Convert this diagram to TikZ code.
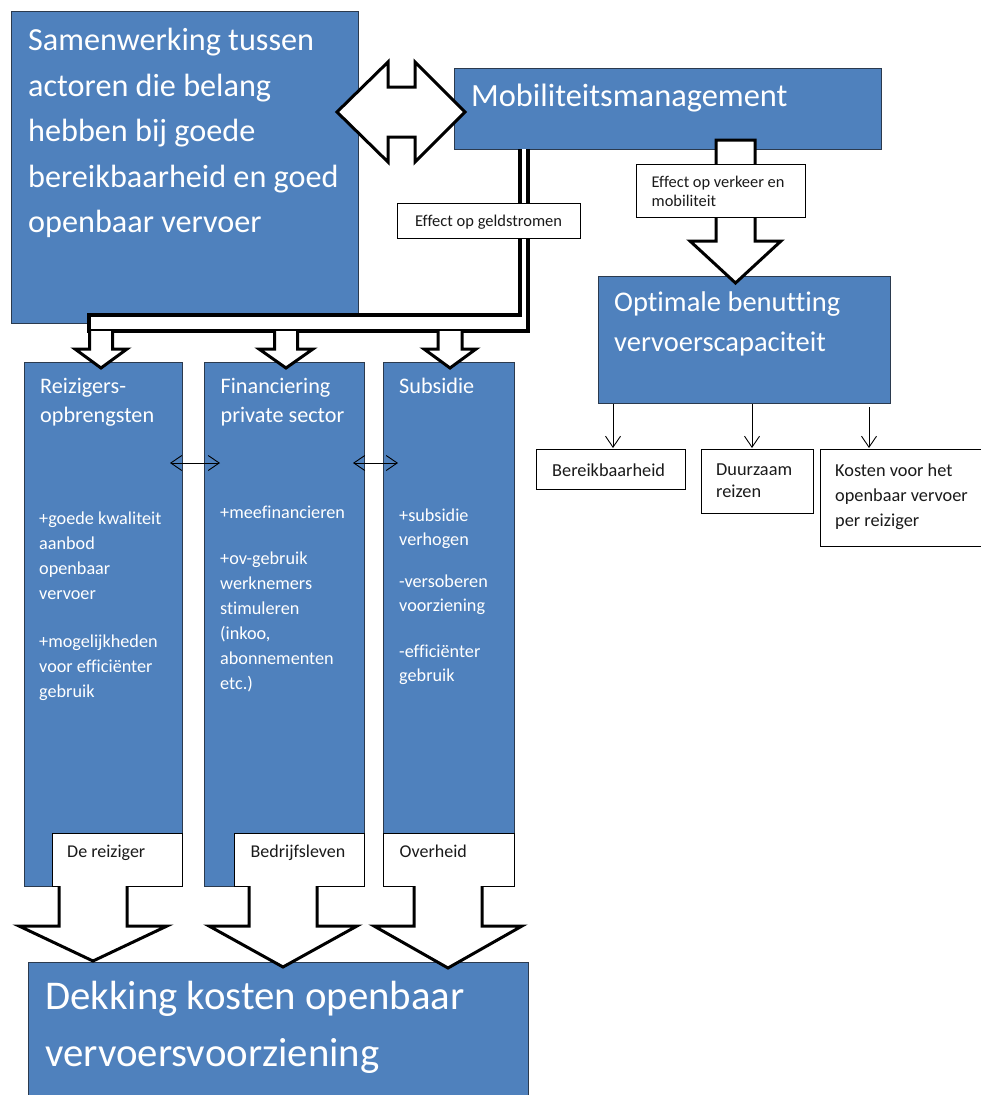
\documentclass[tikz,border=0pt]{standalone}
\usepackage{fontspec}
\setmainfont{Carlito}[Ligatures=NoCommon]
\usetikzlibrary{arrows.meta,calc}
\definecolor{boxblue}{HTML}{4F81BD}
\definecolor{boxedge}{HTML}{2B3A4E}
\definecolor{ink}{HTML}{1A1A1A}
\newcommand\Ln[1]{\hbox{#1}}
\newcommand\Gap[1]{\vskip#1pt}
\newcommand\Fs[2]{\fontsize{#1pt}{#2pt}\selectfont}
\newcommand\blkdown[6]{% cx, ytop, ybase, ytip, shaft hw, head hw
  \filldraw[blk] ({#1-#5},#2) -- ({#1-#5},#3) -- ({#1-#6},#3) -- (#1,#4) -- ({#1+#6},#3) -- ({#1+#5},#3) -- ({#1+#5},#2);}
\begin{document}
\begin{tikzpicture}[x=1pt,y=-1pt,
  bluebox/.style={draw=boxedge, line width=1pt, fill=boxblue, inner sep=0pt, anchor=north west},
  wbox/.style={draw=black, line width=1pt, fill=white, inner sep=0pt, anchor=north west},
  txtw/.style={text=white, inner sep=0pt, anchor=base west},
  txtk/.style={text=ink, inner sep=0pt, anchor=base west},
  blk/.style={draw=black, line width=3pt, fill=white, line join=miter},
  thinarrow/.style={draw=black, line width=0.9pt, -{Straight Barb[length=11pt,width=15pt]}},
  dblarrow/.style={draw=black, line width=0.9pt, {Straight Barb[length=11pt,width=15pt]}-{Straight Barb[length=11pt,width=15pt]}}]
\useasboundingbox (0,0) rectangle (981,1095);
\clip (0,0) rectangle (981,1095);
\fill[white] (0,0) rectangle (981,1095);

% blue boxes
\node[bluebox, minimum width=347pt, minimum height=312pt] (sam) at (11,11) {};
\node[bluebox, minimum width=427pt, minimum height=81pt] (mob) at (454,68) {};
\node[bluebox, minimum width=292pt, minimum height=127pt] (opt) at (598,276) {};
\node[bluebox, minimum width=158pt, minimum height=524pt] (c1) at (24,362) {};
\node[bluebox, minimum width=160pt, minimum height=524pt] (c2) at (204,362) {};
\node[bluebox, minimum width=131pt, minimum height=524pt] (c3) at (383,362) {};
\node[bluebox, minimum width=500pt, minimum height=140pt] (dek) at (28,962) {};

% label boxes at bottom of columns
\node[wbox, minimum width=130pt, minimum height=53pt] (l1) at (52,833) {};
\node[wbox, minimum width=130pt, minimum height=53pt] (l2) at (234,833) {};
\node[wbox, minimum width=131pt, minimum height=53pt] (l3) at (383,833) {};

% bent double-line connector from Mobiliteitsmanagement to the three columns
\filldraw[blk, line width=3.5pt] (520,149) -- (520,315) -- (89,315) -- (89,331) -- (528,331) -- (528,149);
% small block arrows into the columns
\blkdown{101}{331}{349}{368}{11.5}{26}
\blkdown{286}{331}{349}{368}{11.5}{27}
\blkdown{450}{331}{349}{368}{12}{26}

% double block arrow between sam and mob
\filldraw[blk] (337,112) -- (388,62) -- (388,87) -- (415,87) -- (415,62) -- (465,112)
  -- (415,162) -- (415,137) -- (388,137) -- (388,162) -- cycle;

% block arrow mob -> opt
\filldraw[blk] (716,140) -- (716,241) -- (690,241) -- (735.5,283) -- (781,241) -- (755,241) -- (755,140) -- cycle;

% white label boxes on connectors
\node[wbox, minimum width=183pt, minimum height=35pt] (geld) at (397,203) {};
\node[wbox, minimum width=169pt, minimum height=53pt] (verk) at (636,164) {};

% big block arrows to bottom box
\blkdown{93}{886}{926}{961}{34}{74}
\blkdown{283}{886}{926}{967}{34}{74}
\blkdown{448}{886}{926}{968}{34}{74}

% double arrows between columns
\coordinate (a1) at (170,463); \coordinate (a2) at (220,463);
\coordinate (a3) at (353,463); \coordinate (a4) at (398,463);
\draw[dblarrow] (a1) -- (a2);
\draw[dblarrow] (a3) -- (a4);

% right-hand boxes
\node[wbox, minimum width=149pt, minimum height=40pt] (ber) at (536,449) {};
\node[wbox, minimum width=112pt, minimum height=64pt] (duu) at (701,449) {};
\node[wbox, minimum width=170pt, minimum height=97pt] (kos) at (820,449) {};
\coordinate (k1) at (613,448); \coordinate (k2) at (752,448); \coordinate (k3) at (869,448);
\coordinate (s3) at (869,407);
\draw[thinarrow] (k1 |- opt.south) -- (k1);
\draw[thinarrow] (k2 |- opt.south) -- (k2);
\draw[thinarrow] (s3) -- (k3);

% texts
\node[txtw, font=\Fs{32.2}{45.5}] (tsam) at (28,50.5) {\vtop{\Ln{Samenwerking tussen}\Ln{actoren die belang}\Ln{hebben bij goede}\Ln{bereikbaarheid en goed}\Ln{openbaar vervoer}}};
\node[txtw, font=\Fs{32.4}{36}] (tmob) at (471,106) {Mobiliteitsmanagement};
\node[txtw, font=\Fs{28.5}{40}] (topt) at (614,311.5) {\vtop{\Ln{Optimale benutting}\Ln{vervoerscapaciteit}}};

\node[txtw, font=\Fs{22.2}{29}] (tc1) at (40,393) {\vtop{\Ln{Reizigers-}\Ln{opbrengsten}}};
\node[txtw, font=\Fs{22.2}{29}] (tc2) at (220.5,393) {\vtop{\Ln{Financiering}\Ln{private sector}}};
\node[txtw, font=\Fs{22.2}{29}] (tc3) at (399,393) {Subsidie};

\node[txtw, font=\Fs{18.2}{25}] (bc1) at (39,524) {\vtop{\Ln{+goede kwaliteit}\Ln{aanbod}\Ln{openbaar}\Ln{vervoer}\Gap{23}\Ln{+mogelijkheden}\Ln{voor efficiënter}\Ln{gebruik}}};
\node[txtw, font=\Fs{18.2}{25}] (bc2) at (220,518) {\vtop{\Ln{+meefinancieren}\Gap{21}\Ln{+ov-gebruik}\Ln{werknemers}\Ln{stimuleren}\Ln{(inkoo,}\Ln{abonnementen}\Ln{etc.)}}};
\node[txtw, font=\Fs{18.2}{24}] (bc3) at (399,521) {\vtop{\Ln{+subsidie}\Ln{verhogen}\Gap{18}\Ln{-versoberen}\Ln{voorziening}\Gap{22}\Ln{-efficiënter}\Ln{gebruik}}};

\node[txtk, font=\Fs{16.5}{19.5}] (tgeld) at (415,226) {Effect op geldstromen};
\node[txtk, font=\Fs{16.4}{19.5}] (tverk) at (651.5,187) {\vtop{\Ln{Effect op verkeer en}\Ln{mobiliteit}}};
\node[txtk, font=\Fs{18.3}{25}] (tber) at (552,476) {Bereikbaarheid};
\node[txtk, font=\Fs{18.3}{22.5}] (tduu) at (716,475) {\vtop{\Ln{Duurzaam}\Ln{reizen}}};
\node[txtk, font=\Fs{18.3}{25}] (tkos) at (835,476) {\vtop{\Ln{Kosten voor het}\Ln{openbaar vervoer}\Ln{per reiziger}}};

\node[txtk, font=\Fs{18}{22}] (tl1) at (67,857) {De reiziger};
\node[txtk, font=\Fs{18}{22}] (tl2) at (250.5,857) {Bedrijfsleven};
\node[txtk, font=\Fs{18}{22}] (tl3) at (399.5,857) {Overheid};

\node[txtw, font=\Fs{40.8}{57}] (tdek) at (45,1009) {\vtop{\Ln{Dekking kosten openbaar}\Ln{vervoersvoorziening}}};
\end{tikzpicture}
\end{document}
